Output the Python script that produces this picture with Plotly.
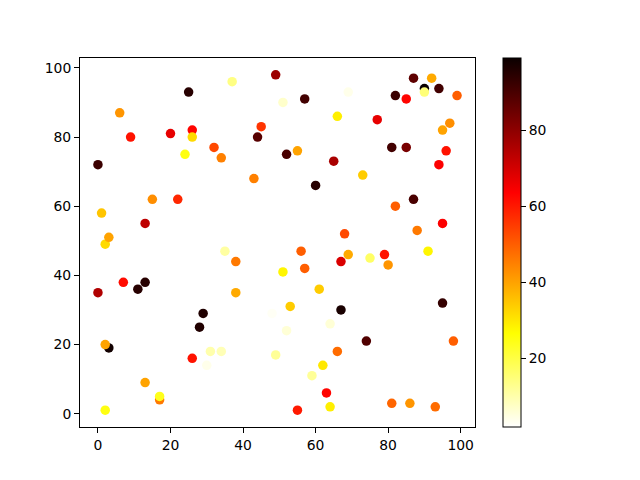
import plotly.graph_objects as go

x = [0, 0, 1, 2, 3, 3, 2, 2, 6, 7, 9, 11, 13, 13, 15, 13, 17, 17, 20, 22, 24, 25, 26, 26, 26, 28, 29, 31, 30, 32,
     34, 35, 34, 37, 38, 38, 43, 44, 45, 49, 48, 49, 51, 51, 52, 52, 53, 55, 55, 56, 57, 57, 59, 60, 61, 62, 63, 64, 64, 65,
     66, 66, 67, 67, 68, 69, 69, 73, 74, 75, 77, 79, 80, 81, 81, 82, 82, 85, 85, 86, 87, 87, 88, 90, 90, 91, 90, 92, 93, 94,
     94, 95, 95, 95, 96, 97, 98, 99, 7]
y = [72, 35, 58, 49, 51, 19, 20, 1, 87, 38, 80, 36, 38, 55, 62, 9, 4, 5, 81, 62, 75, 93, 82, 80, 16, 25, 29, 18, 14, 77,
     74, 47, 18, 96, 44, 35, 68, 80, 83, 98, 29, 17, 90, 41, 75, 24, 31, 76, 1, 47, 91, 42, 11, 66, 36, 14, 6, 26, 2, 73,
     86, 18, 44, 30, 52, 46, 93, 69, 21, 45, 85, 46, 43, 77, 3, 92, 60, 91, 77, 3, 97, 62, 53, 94, 93, 47, 28, 97, 2, 72,
     94, 82, 55, 32, 76, 84, 21, 92, 78]
c = [92, 75, 35, 32, 40, 98, 40, 25, 42, 62, 61, 95, 95, 73, 43, 40, 46, 24, 67, 58, 25, 95, 63, 32, 61, 96, 96, 10, 4, 53,
     45, 11, 9, 14, 46, 39, 45, 88, 56, 78, 3, 12, 7, 28, 90, 6, 34, 40, 60, 50, 91, 50, 12, 95, 34, 30, 63, 6, 29, 76,
     29, 48, 69, 97, 53, 39, 4, 34, 89, 17, 67, 61, 42, 91, 49, 92, 50, 63, 83, 42, 87, 90, 46, 99, 15, 28, 2, 39, 48, 64,
     91, 40, 64, 93, 61, 43, 50, 50, 2]

hot_r = [[0.0, "rgb(255,255,255)"], [0.253968, "rgb(255,255,0)"],
         [0.634921, "rgb(255,0,0)"], [1.0, "rgb(11,0,0)"]]

fig = go.Figure(go.Scatter(
    x=x, y=y, mode="markers",
    marker=dict(size=9.5, color=c, colorscale=hot_r, cmin=min(c), cmax=max(c),
                line=dict(width=0),
                colorbar=dict(x=1.070, xanchor="left", xpad=0, ypad=0, y=0.5, yanchor="middle",
                              len=1, lenmode="fraction", thickness=18,
                              outlinewidth=1, outlinecolor="black",
                              tickvals=[20, 40, 60, 80], ticks="outside", ticklen=5,
                              tickcolor="black", tickfont=dict(size=13.9, color="black"))),
    showlegend=False))

axis_common = dict(showline=True, mirror=True, linecolor="black", linewidth=1,
                   ticks="outside", ticklen=5, tickcolor="black", showgrid=False,
                   zeroline=False, tickfont=dict(size=13.9, color="black"))
fig.update_xaxes(range=[-4.95, 103.95], tickvals=[0, 20, 40, 60, 80, 100], **axis_common)
fig.update_yaxes(range=[-3.85, 102.85], tickvals=[0, 20, 40, 60, 80, 100], **axis_common)

fig.update_layout(width=640, height=480, margin=dict(l=72, r=173, t=50, b=61),
                  plot_bgcolor="white", paper_bgcolor="white",
                  font=dict(family="DejaVu Sans", color="black"))

fig.write_html("out.html")
